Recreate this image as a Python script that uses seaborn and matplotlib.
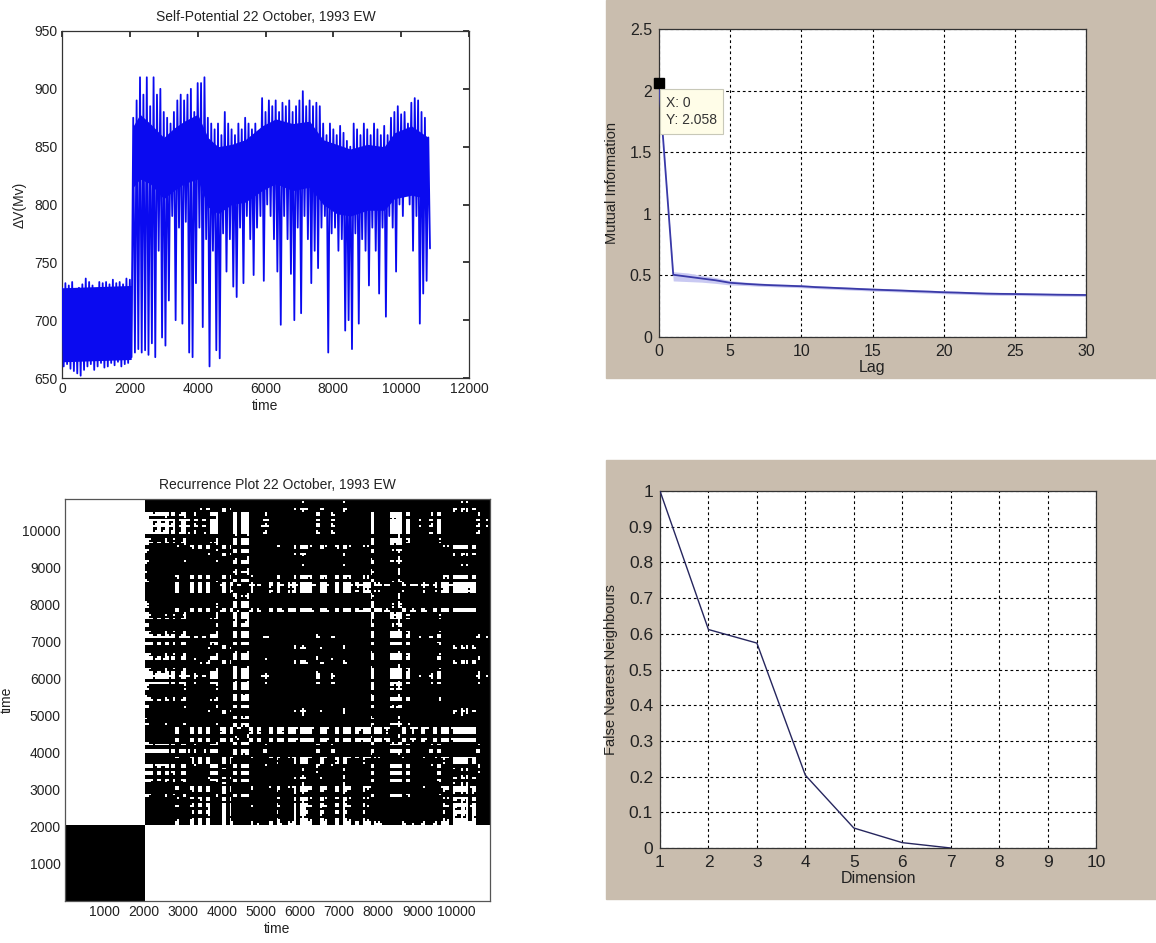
import numpy as np
import pandas as pd
import matplotlib
matplotlib.use("Agg")
import matplotlib.pyplot as plt
from matplotlib.colors import ListedColormap
from matplotlib.patches import Rectangle
import seaborn as sns

# ---------------- data ----------------
# Self-potential record, sampled per 100 time units: upper and lower excursion
sp_time = list(range(0, 10801, 100))
sp_high = [728, 732, 730, 733, 722, 728, 731, 736, 733, 730, 722, 733, 732, 733, 731,
           735, 732, 733, 731, 736, 735,
           875, 890, 910, 895, 910, 885, 910, 895, 900, 880, 875, 870, 880, 890, 895,
           890, 895, 900, 880, 905, 905, 910, 875, 870, 865, 870, 860, 880, 870, 865,
           860, 870, 865, 875, 870, 865, 870, 860, 892, 880, 890, 885, 890, 880, 888,
           885, 890, 880, 885, 890, 898, 885, 890, 885, 888, 885, 870, 860, 870, 865,
           860, 868, 862, 855, 850, 870, 865, 860, 870, 865, 860, 870, 865, 860, 868,
           860, 875, 880, 885, 878, 880, 870, 888, 892, 890, 880, 875, 858]
sp_low = [660, 662, 658, 656, 654, 652, 657, 660, 662, 657, 660, 663, 659, 660, 663,
          661, 664, 660, 662, 663, 668,
          672, 675, 672, 674, 670, 680, 668, 760, 685, 678, 717, 790, 700, 780, 697,
          785, 672, 668, 732, 780, 694, 770, 660, 760, 674, 667, 775, 742, 770, 729,
          720, 780, 732, 790, 770, 739, 780, 790, 734, 800, 790, 770, 742, 696, 790,
          770, 740, 700, 780, 706, 790, 770, 732, 760, 745, 780, 790, 672, 775, 780,
          760, 770, 691, 700, 675, 775, 697, 770, 760, 730, 780, 760, 723, 780, 703,
          790, 780, 742, 800, 790, 810, 800, 760, 790, 697, 723, 734, 762]

# Dense core of the record (where the trace fills the band)
core_time = [0, 2040, 2100, 2300, 2600, 3000, 3300, 3600, 4000, 4300, 4600, 5000,
             5400, 5900, 6300, 6800, 7300, 7700, 8100, 8500, 9000, 9500, 9800,
             10300, 10800]
core_low = [664, 666, 815, 822, 818, 805, 812, 818, 822, 798, 792, 800,
            802, 812, 818, 812, 815, 800, 792, 790, 795, 795, 805, 808, 805]
core_high = [728, 730, 868, 878, 870, 858, 866, 872, 878, 858, 850, 852,
             856, 868, 874, 870, 872, 856, 852, 848, 852, 850, 862, 868, 858]

# Mutual information versus lag, with its spread
mi_lag = list(range(0, 31))
mi_val = [2.058, 0.505, 0.49, 0.475, 0.46, 0.44, 0.432, 0.425, 0.42, 0.416, 0.412,
          0.405, 0.40, 0.395, 0.39, 0.385, 0.381, 0.377, 0.372, 0.368, 0.363,
          0.36, 0.356, 0.352, 0.35, 0.349, 0.347, 0.345, 0.343, 0.342, 0.341]
mi_lower = [2.058, 0.455, 0.45, 0.445, 0.435, 0.422, 0.418, 0.412, 0.408, 0.404, 0.400,
            0.393, 0.388, 0.383, 0.378, 0.373, 0.369, 0.365, 0.360, 0.356, 0.351,
            0.348, 0.344, 0.340, 0.338, 0.337, 0.335, 0.333, 0.331, 0.330, 0.329]
mi_upper = [2.058, 0.530, 0.520, 0.500, 0.482, 0.458, 0.446, 0.438, 0.432, 0.428, 0.424,
            0.417, 0.412, 0.407, 0.402, 0.397, 0.393, 0.389, 0.384, 0.380, 0.375,
            0.372, 0.368, 0.364, 0.362, 0.361, 0.359, 0.357, 0.355, 0.354, 0.353]

# False nearest neighbours versus embedding dimension
fnn_dim = [1, 2, 3, 4, 5, 6, 7]
fnn_val = [1.0, 0.612, 0.574, 0.204, 0.056, 0.015, 0.0]

# recurrence threshold (mV)
rp_eps = 48

# ---------------- style ----------------
sns.set_theme(style="white")
plt.rcParams["font.family"] = ["Liberation Sans", "DejaVu Sans"]
plt.rcParams["xtick.direction"] = "in"
plt.rcParams["ytick.direction"] = "in"
plt.rcParams["axes.edgecolor"] = "#333333"
plt.rcParams["axes.linewidth"] = 0.9
plt.rcParams["text.color"] = "#222222"
plt.rcParams["xtick.color"] = "#222222"
plt.rcParams["ytick.color"] = "#222222"
plt.rcParams["axes.labelcolor"] = "#222222"

W, H = 1156, 943
fig = plt.figure(figsize=(W / 100, H / 100), dpi=100)
fig.patch.set_facecolor("white")


def px_axes(left, top, right, bottom):
    return fig.add_axes([left / W, 1 - bottom / H, (right - left) / W, (bottom - top) / H])


beige = "#c9bdae"
for top, bottom in [(0, 378), (460, 899)]:
    fig.patches.append(Rectangle((606 / W, 1 - bottom / H), (W - 606) / W, (bottom - top) / H,
                                 transform=fig.transFigure, color=beige, zorder=-10))

grid_kw = dict(color="black", linestyle=(0, (2.5, 2.5)), linewidth=0.8)

# ---------------- self-potential time series ----------------
ax1 = px_axes(62, 31, 469, 378)
sp_blue = "#0a0af0"
ax1.fill_between(core_time, core_low, core_high, color=sp_blue, linewidth=0, zorder=2)
t_line, v_line = [], []
for t, hi, lo in zip(sp_time, sp_high, sp_low):
    t_line += [t, t + 50]
    v_line += [hi, lo]
ts = pd.DataFrame({"time": t_line, "dv": v_line})
sns.lineplot(data=ts, x="time", y="dv", ax=ax1, color=sp_blue, linewidth=1.3,
             sort=False, estimator=None, zorder=3)
ax1.set_xlim(0, 12000)
ax1.set_ylim(650, 950)
ax1.set_xticks(range(0, 12001, 2000))
ax1.set_yticks(range(650, 951, 50))
ax1.tick_params(labelsize=10, length=4, top=True, right=True, pad=3)
ax1.set_title("Self-Potential 22 October, 1993 EW", fontsize=10, pad=7)
ax1.set_xlabel("time", fontsize=10, labelpad=2)
ax1.set_ylabel("ΔV(Mv)", fontsize=10, labelpad=6)

# ---------------- mutual information ----------------
ax2 = px_axes(659, 29, 1086, 337)
ax2.fill_between(mi_lag, mi_lower, mi_upper, color="#c9c9f2", linewidth=0, zorder=2)
sns.lineplot(x=mi_lag, y=mi_val, ax=ax2, color="#3a3aa8", linewidth=1.3, zorder=3)
ax2.set_xlim(0, 30)
ax2.set_ylim(0, 2.5)
ax2.set_xticks(range(0, 31, 5))
ax2.set_yticks([0, 0.5, 1, 1.5, 2, 2.5])
ax2.set_yticklabels(["0", "0.5", "1", "1.5", "2", "2.5"])
ax2.grid(True, **grid_kw)
ax2.set_axisbelow(True)
ax2.tick_params(labelsize=11.5, length=0, pad=5)
ax2.set_xlabel("Lag", fontsize=11.5, labelpad=1)
ax2.set_ylabel("Mutual Information", fontsize=10.5, labelpad=8)
ax2.plot([mi_lag[0]], [mi_val[0]], marker="s", color="black", markersize=7,
         clip_on=False, zorder=5)
ax2.text(0.5, 1.96, "X: 0\nY: 2.058", fontsize=10, color="#333333", va="top",
         ha="left", linespacing=1.35, zorder=6,
         bbox=dict(boxstyle="square,pad=0.45", fc="#fffde8", ec="#c8c8b8", lw=0.8))

# ---------------- recurrence plot ----------------
ax3 = px_axes(65, 499, 490, 901)
# trace smoothed over adjacent extremes, then thresholded pairwise distances
trace = np.array(v_line, dtype=float)
level = (trace[:-1] + trace[1:]) / 2.0
level_t = (np.array(t_line[:-1]) + np.array(t_line[1:])) / 2.0
rp = (np.abs(level[:, None] - level[None, :]) < rp_eps).astype(int)
sns.heatmap(rp, ax=ax3, cmap=ListedColormap(["white", "black"]), cbar=False,
            xticklabels=False, yticklabels=False, vmin=0, vmax=1)
ax3.invert_yaxis()
n = len(level)
ax3.set_xlim(0, n)
ax3.set_ylim(0, n)
step = level_t[1] - level_t[0]
tick_t = list(range(1000, 10001, 1000))
tick_pos = [(t - level_t[0]) / step + 0.5 for t in tick_t]
ax3.set_xticks(tick_pos)
ax3.set_xticklabels([str(t) for t in tick_t])
ax3.set_yticks(tick_pos)
ax3.set_yticklabels([str(t) for t in tick_t], rotation=0)
for s in ax3.spines.values():
    s.set_visible(True)
    s.set_color("#555555")
ax3.tick_params(labelsize=10, length=4, pad=3, top=True, right=True, color="#555555")
ax3.set_title("Recurrence Plot 22 October, 1993 EW", fontsize=10, pad=7)
ax3.set_xlabel("time", fontsize=10, labelpad=2)
ax3.set_ylabel("time", fontsize=10, labelpad=6)

# ---------------- false nearest neighbours ----------------
ax4 = px_axes(660, 491, 1096, 848)
sns.lineplot(x=fnn_dim, y=fnn_val, ax=ax4, color="#26265e", linewidth=1.0, zorder=3)
ax4.set_xlim(1, 10)
ax4.set_ylim(0, 1)
ax4.set_xticks(range(1, 11))
ax4.set_yticks([0, 0.1, 0.2, 0.3, 0.4, 0.5, 0.6, 0.7, 0.8, 0.9, 1])
ax4.set_yticklabels(["0", "0.1", "0.2", "0.3", "0.4", "0.5", "0.6", "0.7", "0.8", "0.9", "1"])
ax4.grid(True, **grid_kw)
ax4.set_axisbelow(True)
ax4.tick_params(labelsize=12.5, length=0, pad=5)
ax4.set_xlabel("Dimension", fontsize=11.5, labelpad=1)
ax4.set_ylabel("False Nearest Neighbours", fontsize=10.5, labelpad=8)

fig.savefig("out.png", dpi=100, facecolor="white")
